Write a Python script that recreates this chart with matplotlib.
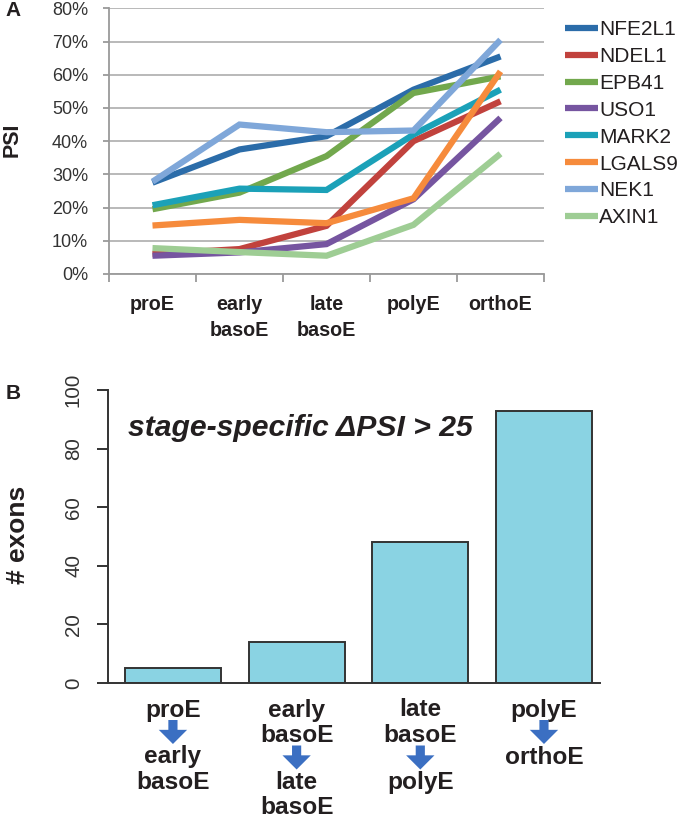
import numpy as np
import matplotlib
matplotlib.use("Agg")
import matplotlib.pyplot as plt
from matplotlib.ticker import PercentFormatter
from matplotlib.transforms import offset_copy

plt.rcParams['font.family'] = ['Liberation Sans', 'DejaVu Sans']

# Panel A data: PSI (%) per gene across stages
stages = ["proE", "early\nbasoE", "late\nbasoE", "polyE", "orthoE"]
genes = ["NFE2L1", "NDEL1", "EPB41", "USO1", "MARK2", "LGALS9", "NEK1", "AXIN1"]
nfe2l1 = [27.5, 37.5, 41.5, 55.5, 65.5]
ndel1 = [6.0, 7.5, 14.5, 40.0, 52.0]
epb41 = [19.5, 24.5, 35.5, 54.5, 59.5]
uso1 = [5.5, 6.5, 9.0, 22.5, 47.0]
mark2 = [20.7, 25.7, 25.3, 42.0, 55.5]
lgals9 = [14.6, 16.3, 15.3, 22.8, 61.0]
nek1 = [27.8, 45.0, 42.7, 43.2, 70.5]
axin1 = [7.8, 6.6, 5.5, 14.8, 36.2]
psi = [nfe2l1, ndel1, epb41, uso1, mark2, lgals9, nek1, axin1]
colors = ["#2b6ca9", "#c1423d", "#72a84d", "#7655a0", "#1ba1b8",
          "#f68b3c", "#7fa7d9", "#9ecd94"]

# Panel B data: number of exons with stage-specific dPSI > 25
from_stage = ["proE", "early\nbasoE", "late\nbasoE", "polyE"]
to_stage = ["early\nbasoE", "late\nbasoE", "polyE", "orthoE"]
n_exons = [5, 14, 48, 93]

W, H = 680, 819
fig = plt.figure(figsize=(W / 100, H / 100), dpi=100)
dark = "#231f20"

# ---- Panel A: line chart
axA = fig.add_axes([109 / W, 1 - 274 / H, (544 - 109) / W, (274 - 8.3) / H])
xs = np.arange(len(stages)) + 0.5
for name, vals, col in zip(genes, psi, colors):
    axA.plot(xs, vals, color=col, lw=4.5, label=name, solid_capstyle="butt",
             solid_joinstyle="miter")
axA.set_xlim(0, len(stages))
axA.set_ylim(0, 80)
axA.set_yticks(np.arange(0, 81, 10))
axA.yaxis.set_major_formatter(PercentFormatter(decimals=0))
axA.yaxis.grid(True, color="#b3b3b3", lw=1.3)
axA.set_axisbelow(True)
for s in ["top", "right"]:
    axA.spines[s].set_visible(False)
for s in ["left", "bottom"]:
    axA.spines[s].set_color("#9a9a9a")
    axA.spines[s].set_linewidth(1.3)
axA.set_xticks(np.arange(len(stages) + 1))
axA.set_xticklabels([])
axA.set_xticks(xs, minor=True)
axA.set_xticklabels(stages, minor=True, fontsize=14.2, fontweight="bold",
                    color=dark, linespacing=1.45, va="top")
axA.tick_params(axis="x", which="major", length=6, color="#9a9a9a", width=1.3)
axA.tick_params(axis="x", which="minor", length=0, pad=15)
axA.tick_params(axis="y", length=4, color="#9a9a9a", width=1.3, pad=11,
                labelsize=13, labelcolor="#333333")
fig.text(12 / W, 1 - 140 / H, "PSI", rotation=90, ha="center", va="center",
         fontsize=15.5, fontweight="bold", color=dark)
fig.text(13 / W, 1 - 10 / H, "A", ha="center", va="center",
         fontsize=15, fontweight="bold", color=dark)
axA.legend(loc="upper left", bbox_to_anchor=(565 / W, 1 - 20 / H),
           bbox_transform=fig.transFigure, frameon=False, fontsize=15,
           handlelength=1.6, handletextpad=0.05, labelspacing=0.38,
           borderpad=0, borderaxespad=0, labelcolor=dark)

# ---- Panel B: bar chart
axB = fig.add_axes([108 / W, 1 - 683 / H, (600 - 108) / W, (683 - 390) / H])
bx = np.arange(len(n_exons))
axB.bar(bx, n_exons, width=0.776, color="#8ad3e3", edgecolor="#333333",
        linewidth=1.4)
axB.set_xlim(-0.525, 3.453)
axB.set_ylim(0, 100)
axB.set_yticks(np.arange(0, 101, 20))
for s in ["top", "right"]:
    axB.spines[s].set_visible(False)
axB.spines["left"].set_bounds(0, 100)
for s in ["left", "bottom"]:
    axB.spines[s].set_color("#333333")
    axB.spines[s].set_linewidth(1.4)
axB.set_xticks([])
axB.tick_params(axis="y", length=8, width=1.4, color="#333333", pad=10,
                labelsize=14.8, labelcolor="#333333")
for lab in axB.get_yticklabels():
    lab.set_rotation(90)
    lab.set_va("center")
axB.text(0.04, 0.87, "stage-specific \u0394PSI > 25", transform=axB.transAxes,
         fontsize=21.7, fontweight="bold", fontstyle="italic", color=dark,
         ha="left", va="center")
fig.text(18 / W, 1 - 535 / H, "# exons", rotation=90, ha="center", va="center",
         fontsize=19, fontweight="bold", color=dark)
fig.text(13 / W, 1 - 393 / H, "B", ha="center", va="center",
         fontsize=15, fontweight="bold", color=dark)

# stage transition labels with arrows below each bar
base = axB.get_xaxis_transform()
text_pitch = 25.5
lab_size = 17.6
for x, a, b in zip(bx, from_stage, to_stage):
    y = 27
    for line in a.split("\n"):
        axB.text(x, 0, line, transform=offset_copy(base, fig, y=-y, units="dots"),
                 ha="center", va="center", fontsize=lab_size, fontweight="bold",
                 color=dark, clip_on=False)
        y += text_pitch
    y = y - text_pitch + 22
    axB.annotate("", xy=(x, 0), xycoords=offset_copy(base, fig, y=-(y + 12), units="dots"),
                 xytext=(x, 0), textcoords=offset_copy(base, fig, y=-(y - 12), units="dots"),
                 arrowprops=dict(arrowstyle="simple,head_length=0.85,head_width=1.7,tail_width=0.55",
                                 color="#3b6fc2", mutation_scale=12,
                                 shrinkA=0, shrinkB=0, lw=0))
    y += 25
    for line in b.split("\n"):
        axB.text(x, 0, line, transform=offset_copy(base, fig, y=-y, units="dots"),
                 ha="center", va="center", fontsize=lab_size, fontweight="bold",
                 color=dark, clip_on=False)
        y += text_pitch

fig.savefig("out.png", dpi=100)
